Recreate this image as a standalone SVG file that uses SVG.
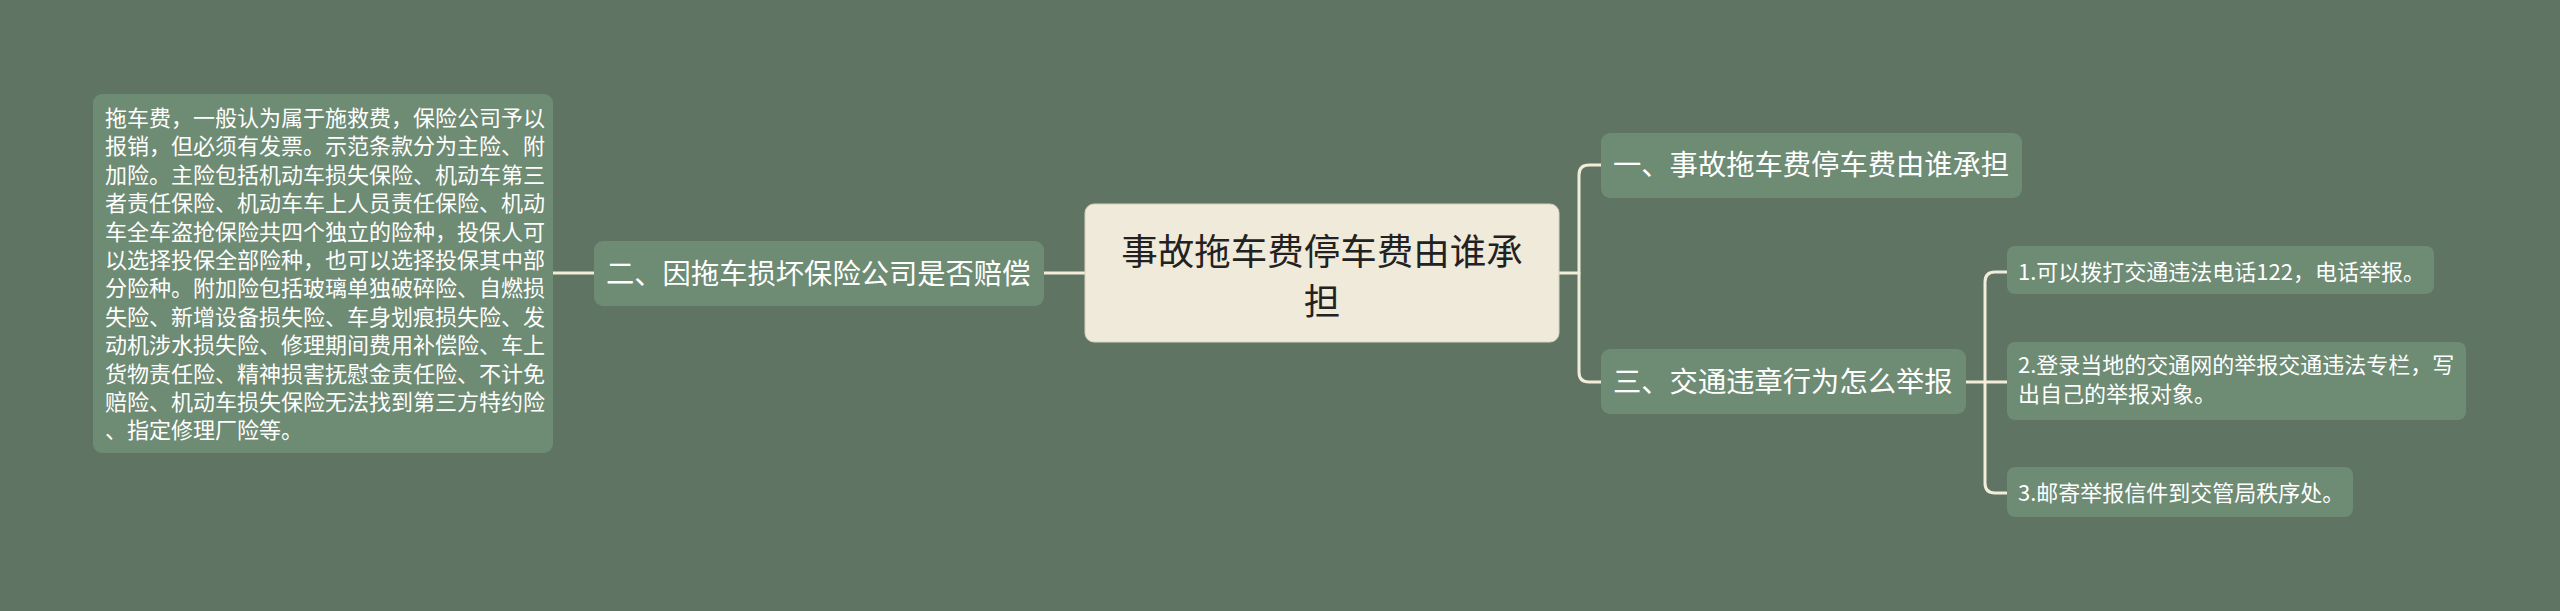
<svg xmlns="http://www.w3.org/2000/svg" width="2560" height="611" viewBox="0 0 2560 611">
<style>
.bg{fill:#5F7463}
.node{fill:#6E8B74}
.root{fill:#EFEAD9;stroke:#D8D2BF;stroke-width:1}
.t{font-family:"Noto Sans CJK SC","Noto Sans",sans-serif;fill:#FFFFFF}
.s{font-size:22px}
.m{font-size:28.3px}
.r{font-family:"Noto Sans CJK SC","Noto Sans",sans-serif;font-size:36.5px;fill:#222222}
.c{fill:none;stroke:#F2EDDA;stroke-width:3;stroke-linecap:round}
</style>
<rect class="bg" x="0" y="0" width="2560" height="611"/>
<g id="connectors">
<path class="c" d="M553,273 L594,273"/>
<path class="c" d="M1044,273 L1085,273"/>
<path class="c" d="M1559,273 L1579,273"/>
<path class="c" d="M1601,165 L1589,165 Q1579,165 1579,175 L1579,372 Q1579,382 1589,382 L1601,382"/>
<path class="c" d="M1966,382 L2007,382"/>
<path class="c" d="M2007,272 L1995,272 Q1985,272 1985,282 L1985,483 Q1985,493 1995,493 L2007,493"/>
</g>
<g id="root">
<rect class="root" x="1085" y="204" width="474" height="138" rx="9"/>
<text class="r" x="1322" y="265" text-anchor="middle">事故拖车费停车费由谁承</text>
<text class="r" x="1322" y="315" text-anchor="middle">担</text>
</g>
<g id="n2">
<rect class="node" x="594" y="241" width="450" height="65" rx="9"/>
<text class="t m" x="606" y="284">二、因拖车损坏保险公司是否赔偿</text>
</g>
<g id="n2a">
<rect class="node" x="93" y="94" width="460" height="359" rx="9"/>
<text class="t s">
<tspan x="105" y="126">拖车费，一般认为属于施救费，保险公司予以</tspan>
<tspan x="105" y="154.4">报销，但必须有发票。示范条款分为主险、附</tspan>
<tspan x="105" y="182.8">加险。主险包括机动车损失保险、机动车第三</tspan>
<tspan x="105" y="211.2">者责任保险、机动车车上人员责任保险、机动</tspan>
<tspan x="105" y="239.6">车全车盗抢保险共四个独立的险种，投保人可</tspan>
<tspan x="105" y="268">以选择投保全部险种，也可以选择投保其中部</tspan>
<tspan x="105" y="296.4">分险种。附加险包括玻璃单独破碎险、自燃损</tspan>
<tspan x="105" y="324.8">失险、新增设备损失险、车身划痕损失险、发</tspan>
<tspan x="105" y="353.2">动机涉水损失险、修理期间费用补偿险、车上</tspan>
<tspan x="105" y="381.6">货物责任险、精神损害抚慰金责任险、不计免</tspan>
<tspan x="105" y="410">赔险、机动车损失保险无法找到第三方特约险</tspan>
<tspan x="105" y="438.4">、指定修理厂险等。</tspan>
</text>
</g>
<g id="n1">
<rect class="node" x="1601" y="133" width="421" height="65" rx="9"/>
<text class="t m" x="1613" y="175">一、事故拖车费停车费由谁承担</text>
</g>
<g id="n3">
<rect class="node" x="1601" y="349" width="365" height="65" rx="9"/>
<text class="t m" x="1613" y="392">三、交通违章行为怎么举报</text>
</g>
<g id="n3a">
<rect class="node" x="2007" y="246" width="427" height="48" rx="8"/>
<text class="t s" x="2018" y="280">1.可以拨打交通违法电话122，电话举报。</text>
</g>
<g id="n3b">
<rect class="node" x="2007" y="342" width="459" height="78" rx="8"/>
<text class="t s"><tspan x="2018" y="373">2.登录当地的交通网的举报交通违法专栏，写</tspan><tspan x="2018" y="401.5">出自己的举报对象。</tspan></text>
</g>
<g id="n3c">
<rect class="node" x="2007" y="467" width="346" height="50" rx="8"/>
<text class="t s" x="2018" y="501">3.邮寄举报信件到交管局秩序处。</text>
</g>
</svg>
